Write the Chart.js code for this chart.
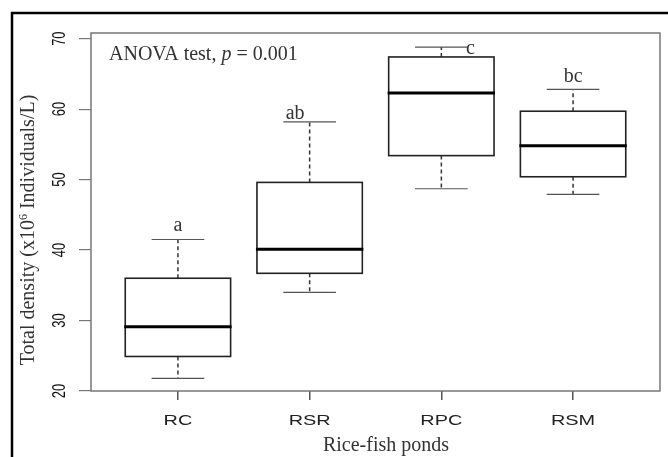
<!DOCTYPE html>
<html>
<head>
<meta charset="utf-8">
<script src="https://cdn.jsdelivr.net/npm/chart.js@4.4.0/dist/chart.umd.min.js"></script>
<style>
  html, body { margin: 0; padding: 0; background: #fff; }
  #wrap { width: 668px; height: 457px; }
</style>
</head>
<body>
<div id="wrap"><canvas id="boxChart"></canvas></div>
<script>
// Datos
const ponds = ['RC', 'RSR', 'RPC', 'RSM'];
const whiskerLow = [21.8, 34.0, 48.7, 47.9];
const q1 = [24.9, 36.7, 53.4, 50.4];
const median = [29.1, 40.1, 62.3, 54.8];
const q3 = [36.0, 49.6, 67.4, 59.7];
const whiskerHigh = [41.5, 58.2, 68.8, 62.8];
const yTicks = [20, 30, 40, 50, 60, 70];

// Letras de significancia (ancla en unidades de datos)
const groupLetters = ['a', 'ab', 'c', 'bc'];
const letterX = [0, 0.89, 2.22, 3];
const letterY = [43.4, 59.3, 68.6, 64.6];

const SERIF = '"Liberation Serif", "Times New Roman", serif';
const SANS = '"Liberation Sans", Arial, sans-serif';
const STRETCH = 1.42; // las etiquetas de ejes salen ensanchadas en el original

const boxPlotPlugin = {
  id: 'boxPlot',
  beforeDraw(chart) {
    const { ctx } = chart;
    // marco negro exterior (solo arriba e izquierda visibles)
    ctx.save();
    ctx.strokeStyle = '#000';
    ctx.lineWidth = 2.5;
    ctx.beginPath();
    ctx.moveTo(12, 470);
    ctx.lineTo(12, 13);
    ctx.lineTo(700, 13);
    ctx.stroke();
    ctx.restore();
  },
  afterDatasetsDraw(chart) {
    const { ctx, chartArea: a, scales: { x, y } } = chart;
    const half = x.getPixelForValue(0.4) - x.getPixelForValue(0);
    const capHalf = half / 2;

    ctx.save();
    ponds.forEach((p, i) => {
      const cx = x.getPixelForValue(i);
      const yLo = y.getPixelForValue(whiskerLow[i]);
      const yQ1 = y.getPixelForValue(q1[i]);
      const yMed = y.getPixelForValue(median[i]);
      const yQ3 = y.getPixelForValue(q3[i]);
      const yHi = y.getPixelForValue(whiskerHigh[i]);

      // bigotes punteados
      ctx.strokeStyle = '#333';
      ctx.lineWidth = 1.5;
      ctx.setLineDash([4, 3]);
      ctx.beginPath();
      ctx.moveTo(cx, yQ3); ctx.lineTo(cx, yHi);
      ctx.moveTo(cx, yQ1); ctx.lineTo(cx, yLo);
      ctx.stroke();
      ctx.setLineDash([]);

      // topes
      ctx.strokeStyle = '#555';
      ctx.lineWidth = 1.2;
      ctx.beginPath();
      ctx.moveTo(cx - capHalf, yHi); ctx.lineTo(cx + capHalf, yHi);
      ctx.moveTo(cx - capHalf, yLo); ctx.lineTo(cx + capHalf, yLo);
      ctx.stroke();

      // caja
      ctx.strokeStyle = '#222';
      ctx.lineWidth = 1.6;
      ctx.strokeRect(cx - half, yQ3, half * 2, yQ1 - yQ3);

      // mediana
      ctx.strokeStyle = '#000';
      ctx.lineWidth = 3;
      ctx.beginPath();
      ctx.moveTo(cx - half - 1, yMed); ctx.lineTo(cx + half + 1, yMed);
      ctx.stroke();

      // letra
      ctx.fillStyle = '#333';
      ctx.font = '20px ' + SERIF;
      ctx.textAlign = 'center';
      ctx.textBaseline = 'middle';
      ctx.fillText(groupLetters[i], x.getPixelForValue(letterX[i]), y.getPixelForValue(letterY[i]));
    });

    // marco del área del gráfico
    ctx.strokeStyle = '#777';
    ctx.lineWidth = 1.5;
    ctx.strokeRect(a.left, a.top, a.right - a.left, a.bottom - a.top);

    // etiquetas del eje x
    ctx.fillStyle = '#222';
    ctx.font = '14px ' + SANS;
    ctx.textAlign = 'center';
    ctx.textBaseline = 'middle';
    x.ticks.forEach((t) => {
      ctx.save();
      ctx.translate(x.getPixelForValue(t.value), 421);
      ctx.scale(STRETCH, 1);
      ctx.fillText(ponds[t.value], 0, 0);
      ctx.restore();
    });

    // etiquetas del eje y (giradas)
    ctx.fillStyle = '#111';
    ctx.font = '13px ' + SANS;
    y.ticks.forEach((t) => {
      ctx.save();
      ctx.translate(60, y.getPixelForValue(t.value));
      ctx.rotate(-Math.PI / 2);
      ctx.scale(1, STRETCH);
      ctx.fillText(String(t.value), 0, 0);
      ctx.restore();
    });

    // textos
    ctx.fillStyle = '#333';
    ctx.font = '20px ' + SERIF;
    ctx.textAlign = 'left';
    ctx.textBaseline = 'alphabetic';
    let tx = 109;
    const ty = 60;
    const parts = [['ANOVA test, ', ''], ['p', 'italic '], [' = 0.001', '']];
    parts.forEach(([txt, style]) => {
      ctx.font = style + '20px ' + SERIF;
      ctx.fillText(txt, tx, ty);
      tx += ctx.measureText(txt).width;
    });

    ctx.font = '20px ' + SERIF;
    ctx.textAlign = 'center';
    ctx.fillText('Rice-fish ponds', 386, 451);

    // título del eje y con superíndice
    ctx.save();
    ctx.translate(34, 230);
    ctx.rotate(-Math.PI / 2);
    ctx.textAlign = 'left';
    const seg1 = 'Total density (x10';
    const seg2 = '6';
    const seg3 = ' Individuals/L)';
    ctx.font = '20px ' + SERIF;
    const w1 = ctx.measureText(seg1).width;
    const w3 = ctx.measureText(seg3).width;
    ctx.font = '12px ' + SERIF;
    const w2 = ctx.measureText(seg2).width;
    let sx = -(w1 + w2 + w3) / 2;
    ctx.font = '20px ' + SERIF;
    ctx.fillText(seg1, sx, 0);
    sx += w1;
    ctx.font = '12px ' + SERIF;
    ctx.fillText(seg2, sx, -7);
    sx += w2;
    ctx.font = '20px ' + SERIF;
    ctx.fillText(seg3, sx, 0);
    ctx.restore();

    ctx.restore();
  }
};

document.addEventListener('DOMContentLoaded', () => {
  const ctx = document.getElementById('boxChart');
  if (!ctx) return;

  new Chart(ctx, {
    type: 'scatter',
    data: {
      datasets: [{
        label: 'Mediana',
        data: ponds.map((p, i) => ({ x: i, y: median[i] })),
        pointRadius: 0,
        showLine: false
      }]
    },
    options: {
      responsive: true,
      maintainAspectRatio: false,
      animation: false,
      layout: { padding: { top: 33, right: 8, left: 0, bottom: 0 } },
      plugins: {
        legend: { display: false },
        tooltip: { enabled: false }
      },
      scales: {
        x: {
          type: 'linear',
          min: -0.66,
          max: 3.66,
          afterBuildTicks: (s) => { s.ticks = ponds.map((p, i) => ({ value: i })); },
          afterFit: (s) => { s.height = 66; },
          ticks: { display: false },
          border: { display: false },
          grid: { drawOnChartArea: false, drawTicks: true, tickLength: 9, color: '#555', lineWidth: 1.5 }
        },
        y: {
          min: 20,
          max: 70.8,
          afterBuildTicks: (s) => { s.ticks = yTicks.map((v) => ({ value: v })); },
          afterFit: (s) => { s.width = 91; },
          ticks: { display: false },
          border: { display: false },
          grid: { drawOnChartArea: false, drawTicks: true, tickLength: 12, color: '#777', lineWidth: 1.2 }
        }
      }
    },
    plugins: [boxPlotPlugin]
  });
});
</script>
</body>
</html>
